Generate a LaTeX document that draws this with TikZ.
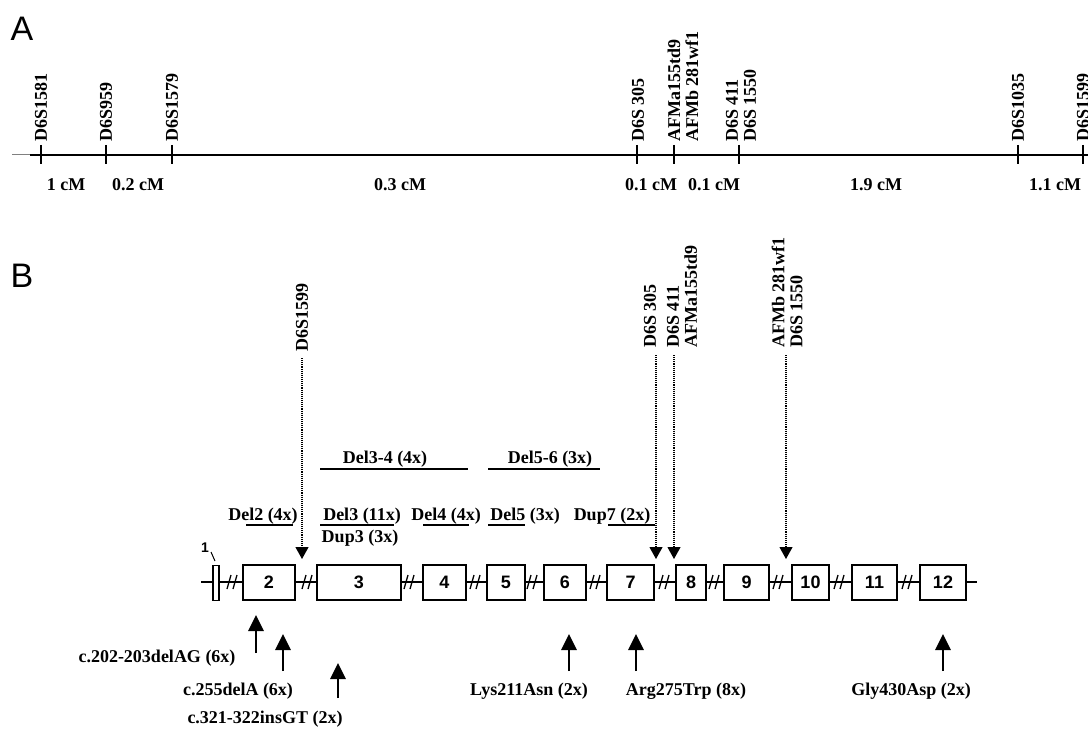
\documentclass[tikz,border=0pt]{standalone}
\usepackage{fontspec}
\setmainfont{Liberation Serif}
\newfontfamily\arialfont{Liberation Sans}
\usetikzlibrary{arrows.meta}

\tikzset{
  lbl/.style={font=\fontsize{18}{18}\selectfont\bfseries, inner sep=0pt, anchor=base},
  marker/.style={font=\fontsize{18}{18}\selectfont\bfseries, inner sep=0pt,
    rotate=90, anchor=west, align=left},
  exon/.style={draw, line width=1.5pt, fill=white, minimum height=35pt, inner sep=0pt,
    font=\arialfont\fontsize{18}{18}\selectfont\bfseries},
  probe/.style={densely dotted, line width=1.1pt, -{Triangle[width=13pt,length=12pt]}},
  mutation/.style={line width=2.8pt, -{Triangle[width=15pt,length=16pt]}},
  bar/.style={line width=2pt},
  panel/.style={font=\arialfont\fontsize{34}{34}\selectfont, inner sep=0pt}
}

\begin{document}
\begin{tikzpicture}[x=1pt, y=-1pt]
  \useasboundingbox (0,0) rectangle (1088,730);
  \clip (0,0) rectangle (1088,730);

  % panel A: marker map
  \node[panel] (pa) at (22,29) {A};
  \draw[line width=1pt, gray] (12,155) -- (30,155);
  \draw[line width=1.5pt] (30,155) -- (1088,155);
  \foreach \x in {41,106,172,637,674,739,1018,1083}
    \draw[line width=1.3pt] (\x,145) -- (\x,164);
  \node[marker] (m1) at (41,142) {D6S1581};
  \node[marker] (m2) at (106,142) {D6S959};
  \node[marker] (m3) at (172,142) {D6S1579};
  \node[marker] (m4) at (638,142) {D6S 305};
  \node[marker] (m5) at (683,142) {AFMa155td9\\AFMb 281wf1};
  \node[marker] (m6) at (741,142) {D6S 411\\D6S 1550};
  \node[marker] (m7) at (1018,142) {D6S1035};
  \node[marker] (m8) at (1083,142) {D6S1599};
  \foreach \x/\t in {66/1 cM, 138/0.2 cM, 400/0.3 cM, 651/0.1 cM, 714/0.1 cM,
                     876/1.9 cM, 1055/1.1 cM}
    \node[lbl] at (\x,191) {\t};

  % panel B: gene structure
  \node[panel] (pb) at (22,276) {B};
  \draw[line width=1.5pt] (201,582) -- (977,582);
  \node[exon, minimum width=6pt] (e1) at (216,583) {};
  \node[font=\arialfont\fontsize{14}{14}\selectfont\bfseries, inner sep=0pt] (n1) at (205,548) {1};
  \draw[line width=1pt] (211,552) -- (215,561);
  \foreach \n/\c/\w in {2/269/52, 3/359/84, 4/444.5/43, 5/506/38, 6/565/42,
                        7/630.5/47, 8/691/30, 9/746.5/45, 10/810.5/37,
                        11/874.5/45, 12/943/46}
    \node[exon, minimum width=\w pt] (e\n) at (\c,582.5) {\n};
  \foreach \x in {232,307,409,475,532,595,664,714,778,839,907}
    \draw[line width=1.3pt] ({\x-5},589) -- ({\x-1},575) ({\x+1},589) -- ({\x+5},575);

  % probes
  \node[marker] (q1) at (302,352) {D6S1599};
  \node[marker] (q2) at (650,348) {D6S 305};
  \node[marker] (q3) at (682,348) {D6S 411\\AFMa155td9};
  \node[marker] (q4) at (787,348) {AFMb 281wf1\\D6S 1550};
  \draw[probe] (302,358) -- (302,559);
  \draw[probe] (656,355) -- (656,559);
  \draw[probe] (674,355) -- (674,559);
  \draw[probe] (786,355) -- (786,559);

  % rearrangements
  \node[lbl] (d34) at (385,463) {Del3-4 (4x)};
  \node[lbl] (d56) at (550,463) {Del5-6 (3x)};
  \node[lbl] (d2) at (263,520) {Del2 (4x)};
  \node[lbl] (d3) at (362,520) {Del3 (11x)};
  \node[lbl] (u3) at (360,542) {Dup3 (3x)};
  \node[lbl] (d4) at (446,520) {Del4 (4x)};
  \node[lbl] (d5) at (525,520) {Del5 (3x)};
  \node[lbl] (u7) at (612,520) {Dup7 (2x)};
  \draw[bar] (320,469) -- (468,469);
  \draw[bar] (488,469) -- (600,469);
  \draw[bar] (246,525) -- (293,525);
  \draw[bar] (320,525) -- (394,525);
  \draw[bar] (423,525) -- (469,525);
  \draw[bar] (488,525) -- (525,525);
  \draw[bar] (608,525) -- (655,525);

  % point mutations
  \draw[mutation] (256,653) -- (256,615);
  \draw[mutation] (283,671) -- (283,634);
  \draw[mutation] (338,698) -- (338,663);
  \draw[mutation] (569,671) -- (569,634);
  \draw[mutation] (636,671) -- (636,634);
  \draw[mutation] (943,671) -- (943,634);
  \node[lbl] (t1) at (157,662) {c.202-203delAG (6x)};
  \node[lbl] (t2) at (238,695) {c.255delA (6x)};
  \node[lbl] (t3) at (265,723) {c.321-322insGT (2x)};
  \node[lbl] (t4) at (529,695) {Lys211Asn (2x)};
  \node[lbl] (t5) at (686,695) {Arg275Trp (8x)};
  \node[lbl] (t6) at (911,695) {Gly430Asp (2x)};
\end{tikzpicture}
\end{document}
